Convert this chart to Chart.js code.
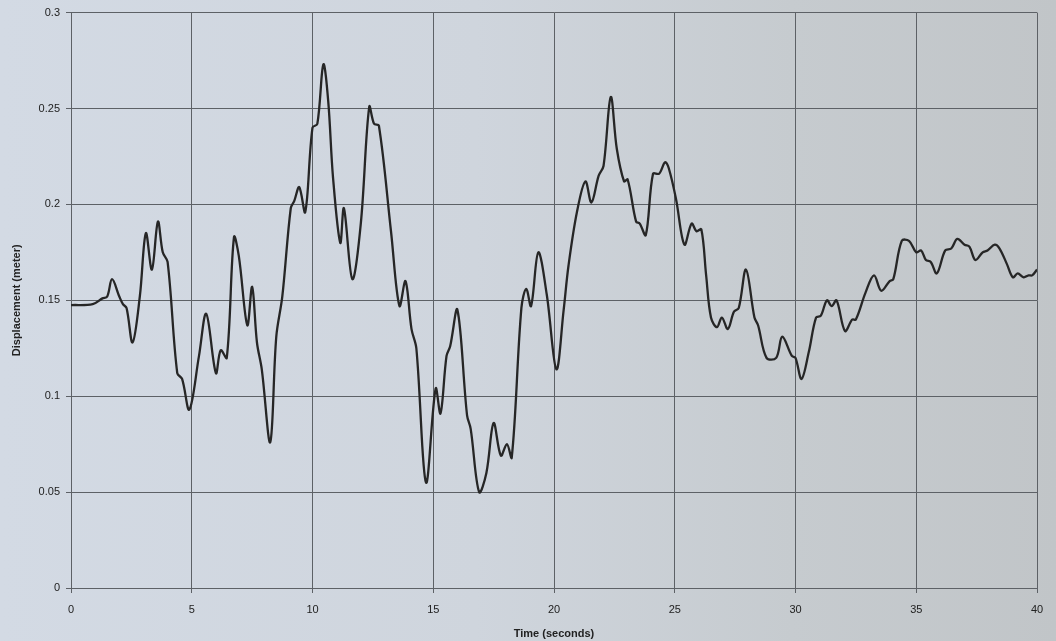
<!DOCTYPE html>
<html>
<head>
<meta charset="utf-8">
<script src="https://cdn.jsdelivr.net/npm/chart.js@4/dist/chart.umd.min.js"></script>
<style>
html,body{margin:0;padding:0;}
body{width:1056px;height:641px;overflow:hidden;background:linear-gradient(90deg,#d3dae4 0%,#cfd5dd 45%,#c6cbcf 75%,#c1c5c8 100%);}
#wrap{position:relative;width:1056px;height:641px;}
</style>
</head>
<body>
<div id="wrap"><canvas id="c" width="1056" height="641"></canvas></div>
<script>
const timeSeconds = [0,0.9,1.3,1.5,1.7,2.0,2.15,2.3,2.55,2.85,3.1,3.35,3.6,3.8,4.0,4.4,4.6,4.9,5.3,5.6,6.0,6.2,6.45,6.75,6.95,7.3,7.5,7.7,7.9,8.25,8.5,8.75,9.1,9.25,9.45,9.7,10.0,10.2,10.45,10.65,10.85,11.15,11.3,11.65,12.0,12.35,12.55,12.75,13.25,13.6,13.85,14.1,14.3,14.7,15.1,15.3,15.55,15.7,16.0,16.4,16.55,16.9,17.2,17.5,17.8,18.05,18.25,18.65,18.85,19.05,19.35,19.7,20.1,20.4,20.6,20.95,21.3,21.55,21.85,22.05,22.35,22.6,22.9,23.05,23.4,23.55,23.8,24.1,24.35,24.6,24.75,25.05,25.4,25.7,25.9,26.1,26.3,26.5,26.75,26.95,27.2,27.45,27.65,27.95,28.3,28.45,28.8,29.2,29.45,29.85,30.0,30.25,30.55,30.85,31.05,31.3,31.5,31.7,32.05,32.35,32.5,32.9,33.25,33.55,33.9,34.05,34.4,34.7,35.0,35.2,35.4,35.6,35.85,36.2,36.45,36.7,37.0,37.2,37.45,37.75,37.95,38.25,38.45,38.75,39.0,39.2,39.45,39.65,39.8,40.0];
const displacement = [0.1475,0.148,0.151,0.152,0.161,0.152,0.148,0.146,0.128,0.152,0.185,0.166,0.191,0.175,0.170,0.112,0.109,0.093,0.121,0.143,0.112,0.124,0.120,0.183,0.173,0.137,0.157,0.128,0.114,0.076,0.131,0.152,0.198,0.202,0.209,0.196,0.240,0.242,0.273,0.254,0.214,0.180,0.198,0.161,0.190,0.251,0.242,0.241,0.186,0.147,0.160,0.135,0.125,0.055,0.104,0.091,0.121,0.126,0.145,0.090,0.083,0.050,0.060,0.086,0.069,0.075,0.068,0.146,0.156,0.147,0.175,0.153,0.114,0.145,0.168,0.196,0.212,0.201,0.215,0.220,0.256,0.229,0.212,0.213,0.191,0.190,0.184,0.216,0.216,0.222,0.219,0.203,0.179,0.190,0.186,0.187,0.163,0.141,0.136,0.141,0.135,0.144,0.146,0.166,0.141,0.137,0.120,0.120,0.131,0.121,0.120,0.109,0.123,0.141,0.142,0.150,0.147,0.150,0.134,0.140,0.140,0.154,0.163,0.155,0.160,0.161,0.181,0.181,0.175,0.176,0.171,0.170,0.164,0.176,0.177,0.182,0.179,0.178,0.171,0.175,0.176,0.179,0.177,0.169,0.162,0.164,0.162,0.163,0.163,0.166];
const xTicks = [0,5,10,15,20,25,30,35,40];
const yTicks = [0,0.05,0.1,0.15,0.2,0.25,0.3];
const xTitle = 'Time (seconds)';
const yTitle = 'Displacement (meter)';

const points = timeSeconds.map((t,i)=>({x:t,y:displacement[i]}));
const gridColor = '#5d6166';
const font = {family:'"Liberation Sans", Arial, sans-serif', size:11};

new Chart(document.getElementById('c'), {
  type:'line',
  data:{datasets:[{data:points,borderColor:'#262626',borderWidth:2.3,pointRadius:0,tension:0.35,fill:false}]},
  options:{
    responsive:false,animation:false,
    layout:{padding:{top:12,right:19,left:0,bottom:0}},
    plugins:{legend:{display:false},tooltip:{enabled:false}},
    scales:{
      x:{type:'linear',min:0,max:40,
        afterBuildTicks:s=>{s.ticks=xTicks.map(v=>({value:v}));},
        afterFit:s=>{s.height=53;},
        grid:{color:gridColor,lineWidth:1,tickLength:5,drawTicks:true},
        border:{color:gridColor,width:1},
        ticks:{color:'#222',font:font,padding:10,maxRotation:0,callback:v=>String(v)},
        title:{display:true,text:xTitle,color:'#222',font:{...font,weight:'bold'},padding:{top:2,bottom:0}}
      },
      y:{type:'linear',min:0,max:0.3,
        afterBuildTicks:s=>{s.ticks=yTicks.map(v=>({value:v}));},
        afterFit:s=>{s.width=71;},
        grid:{color:gridColor,lineWidth:1,tickLength:5},
        border:{color:gridColor,width:1},
        ticks:{color:'#222',font:font,padding:6,callback:v=>String(Math.round(v*100)/100)},
        title:{display:true,text:yTitle,color:'#222',font:{...font,weight:'bold'},padding:{top:10,bottom:0}}
      }
    }
  }
});
</script>
</body>
</html>
